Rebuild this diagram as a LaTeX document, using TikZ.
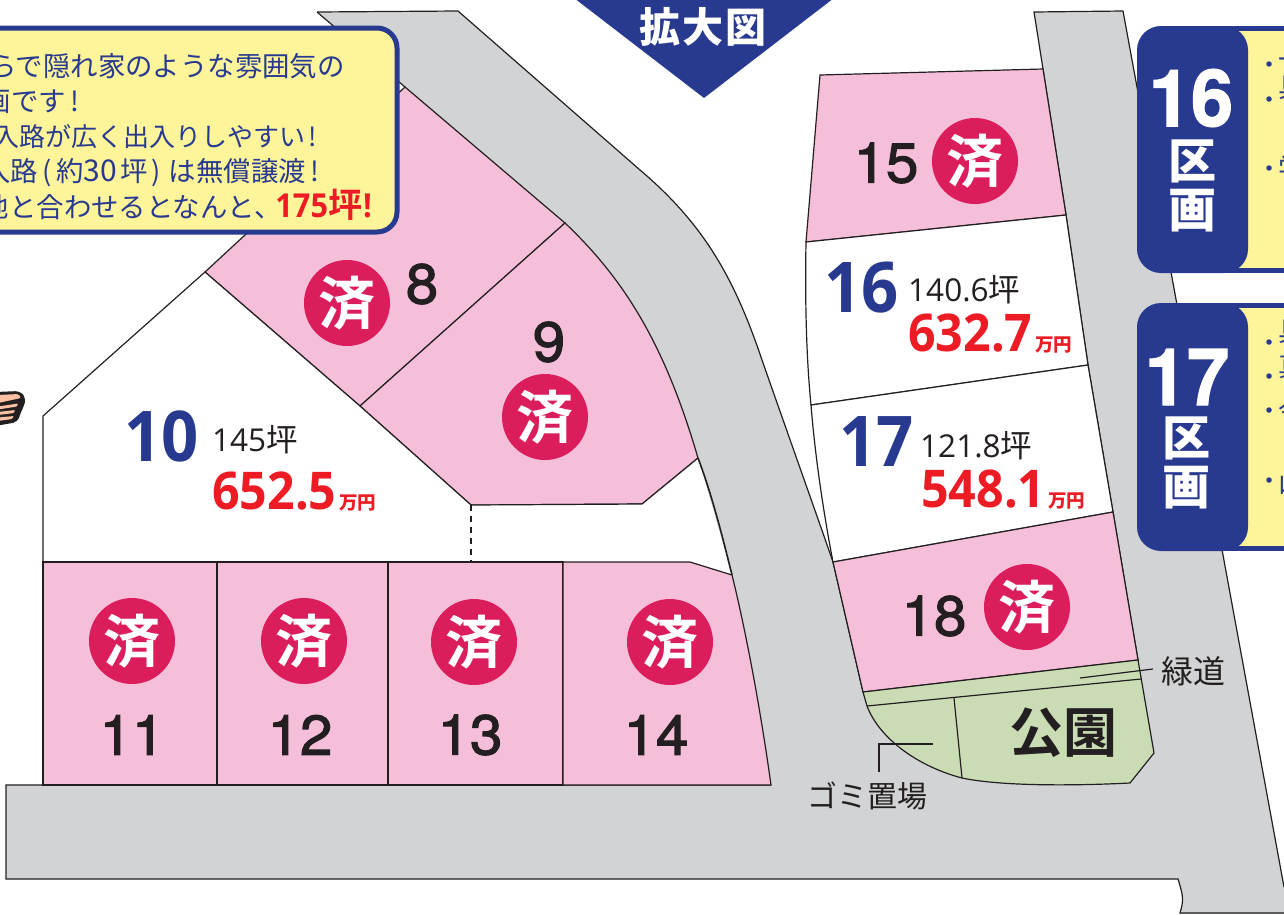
\documentclass[tikz,border=0pt]{standalone}
\usepackage{fontspec}
\setmainfont{Open Sans}
\newfontfamily\cjk{Noto Sans CJK JP}
\newfontfamily\cjkb{Noto Sans CJK JP Bold}
\newfontfamily\cjkh{Noto Sans CJK JP Black}
\newfontfamily\opb{Open Sans}[BoldFont=* Bold,FakeStretch=0.93]
\newfontfamily\hvn{TeX Gyre Heros}[FakeStretch=1.04,FakeBold=2]
\newfontfamily\hv{TeX Gyre Heros}[FakeBold=1.5,FakeStretch=0.96]
\definecolor{road}{HTML}{D1D3D4}
\definecolor{lotpink}{HTML}{F6BFD9}
\definecolor{parkgreen}{HTML}{C9DCB4}
\definecolor{noteyellow}{HTML}{FEF499}
\definecolor{navy}{HTML}{283A90}
\definecolor{soldred}{HTML}{DB1D5C}
\definecolor{pricered}{HTML}{ED1C24}
\definecolor{ink}{HTML}{231F20}
\definecolor{skin}{HTML}{F8BFA0}
\newcommand{\sumi}{\raisebox{-2pt}{済}}
\newcommand{\yen}{{\kern3pt\cjkb\fontsize{18.5}{18.5}\selectfont 万円}}
\tikzset{
  x=1pt,y=-1pt,
  edge/.style={draw=ink,line width=1.2pt,line join=miter},
  sold/.style={edge,fill=lotpink},
  free/.style={edge,fill=white},
  park/.style={edge,fill=parkgreen},
  soldmark/.style={circle,fill=soldred,minimum size=86pt,inner sep=0pt,text=white,font=\cjkb\fontsize{57}{57}\selectfont},
  lotnum/.style={text=ink,inner sep=0pt,font=\hvn\fontsize{56}{56}\selectfont},
  bluenum/.style={text=navy,inner sep=0pt,anchor=base west,font=\opb\bfseries\fontsize{70}{70}\selectfont},
  area/.style={text=ink,inner sep=0pt,anchor=base west,font=\fontsize{31.5}{31.5}\selectfont},
  price/.style={text=pricered,inner sep=0pt,anchor=base west,font=\opb\bfseries\fontsize{52}{52}\selectfont},
  note/.style={text=navy,inner sep=0pt,anchor=base east,font=\cjk\fontsize{27.4}{27.4}\selectfont},
  tabnum/.style={text=white,inner sep=0pt,font=\hv\bfseries\fontsize{79}{79}\selectfont},
  tabkanji/.style={text=white,inner sep=0pt,font=\cjkh\fontsize{48}{48}\selectfont},
  tabbox/.style={fill=navy,rounded corners=24pt},
  panel/.style={fill=noteyellow},
  dot/.style={circle,fill=navy,minimum size=5.5pt,inner sep=0pt},
  frag/.style={text=navy,inner sep=0pt,anchor=west,font=\cjk\fontsize{27}{27}\selectfont},
  label/.style={text=ink,inner sep=0pt,font=\cjk\fontsize{30}{30}\selectfont},
}
\begin{document}
\begin{tikzpicture}
\useasboundingbox (0,0) rectangle (1284,914);
\clip (0,0) rectangle (1284,914);
% roads as one grey area
\fill[road] (317,12) -- (458,11) -- (640,170)
  .. controls (705,225) and (735,280) .. (762,360)
  .. controls (790,440) and (815,510) .. (833,562) -- (863,692) -- (867,706)
  .. controls (880,740) and (920,767) .. (962,778)
  .. controls (1000,786) and (1070,786) .. (1130,783) -- (1154,753) -- (1138,660)
  -- (1113,512) -- (1088,365) -- (1066,215) -- (1034,12) -- (1123,11) -- (1284,887) -- (1284,914)
  -- (1180,914) .. controls (1184,900) and (1183,895) .. (1178,879)
  -- (6,879) -- (6,785) -- (771,785) -- (732,575) -- (698,458) -- (565,223) -- cycle;
\draw[edge] (1123,11) -- (1034,12) -- (1066,215) -- (1088,365) -- (1113,512) -- (1138,660);
\draw[edge] (1123,11) -- (1284,887);
\draw[edge] (317,12) -- (458,11) -- (640,170) .. controls (705,225) and (735,280) .. (762,360) .. controls (790,440) and (815,510) .. (833,562) -- (863,692);
\draw[edge] (771,785) -- (6,785) -- (6,879) -- (1178,879) .. controls (1183,895) and (1184,900) .. (1180,913) -- (1284,913);
% lots on the left
\draw[sold] (205,272) -- (405,87) -- (565,223) -- (360,406) -- cycle;
\draw[edge] (317,12) -- (405,87);
\draw[sold] (360,406) -- (565,223) .. controls (625,280) and (665,345) .. (698,458) -- (642,504) -- (471,505) -- cycle;
\draw[free] (205,272) -- (43,416) -- (43,562) -- (471,562) -- (471,505) -- (360,406) -- cycle;
\fill[white] (471,505) -- (642,504) -- (698,458) -- (732,575) -- (690,562) -- (471,562) -- cycle;
\draw[edge] (471,505) -- (642,504) -- (698,458);
\fill[white] (470,506.5) rectangle (472,561);
\draw[ink,line width=1.1pt,dash pattern=on 6pt off 5pt] (471,505) -- (471,562);
\draw[sold] (43,562) rectangle (217,785);
\draw[sold] (217,562) rectangle (388,785);
\draw[sold] (388,562) rectangle (563,785);
\draw[sold] (563,562) -- (690,562) -- (732,575) .. controls (748,640) and (762,720) .. (771,785) -- (563,785) -- cycle;
\draw[edge,line width=1.6pt] (698,458) .. controls (712,495) and (722,535) .. (732,575);
% lots on the right
\draw[sold] (820,75) -- (1043,69) -- (1066,215) -- (806,242) -- cycle;
\draw[free] (806,242) -- (1066,215) -- (1088,365) -- (811,405) .. controls (806,355) and (805,295) .. (806,242) -- cycle;
\draw[free] (811,405) -- (1088,365) -- (1113,512) -- (833,562) .. controls (823,510) and (815,455) .. (811,405) -- cycle;
\draw[sold] (833,562) -- (1113,512) -- (1138,660) -- (863,692) -- cycle;
% park
\draw[park] (863,692) -- (1138,660) -- (1154,753) -- (1130,783) .. controls (1070,786) and (1000,786) .. (962,778) .. controls (920,767) and (880,740) .. (867,706) -- cycle;
\draw[edge] (867,706) -- (1141,679);
\draw[edge] (954,698) -- (962,778);
\draw[edge] (879,772) -- (879,744) -- (933,744);
\draw[edge] (1080,678) -- (1153,669);
% title flag
\fill[navy] (574,-2) -- (834,-2) -- (704,98) -- cycle;
\node[text=white,inner sep=0pt,font=\cjkh\fontsize{41}{41}\selectfont] (title) at (703,27) {拡\kern2pt 大\kern2pt 図};
% note box
\draw[fill=noteyellow,draw=navy,line width=5pt,rounded corners=20pt] (-30,28) rectangle (397,232);
\node[note] (n1) at (345,76) {らで隠れ家のような雰囲気の};
\node[note] (n2) at (80,111) {画です\kern5pt!};
\node[note,font=\cjk\fontsize{26}{26}\selectfont] (n3) at (317,146) {入路が広く出入りしやすい\kern3pt!};
\node[note] (n4) at (320,181) {入路\kern4pt(\kern5pt 約{\fontsize{30}{30}\selectfont 30}\kern3pt 坪\kern4pt)\kern8pt は無償譲渡\kern5pt!};
\node[note] (n5) at (372,217) {地と合わせるとなんと、\kern-6pt\textcolor{pricered}{{\opb\bfseries\fontsize{33}{33}\selectfont 175}{\cjkb\fontsize{34}{34}\selectfont 坪}{\opb\bfseries\fontsize{33}{33}\selectfont\kern1pt !}}};
% hand
\fill[ink,rounded corners=5pt] (-5,392) -- (20,391) -- (26,398) -- (24,406) -- (20,414) -- (18,422) -- (-5,426) -- cycle;
\fill[skin,rounded corners=2pt] (-2,395) -- (19,394) -- (21,398) -- (-2,403) -- cycle;
\fill[skin,rounded corners=1pt] (-2,406.5) -- (18,403.5) -- (17,406.5) -- (-2,409.5) -- cycle;
\fill[skin,rounded corners=1pt] (-2,412) -- (15,410) -- (14,413) -- (-2,415) -- cycle;
\fill[skin,rounded corners=1pt] (-2,417.5) -- (14,416) -- (12,419) -- (-2,421) -- cycle;
% side panels
\fill[navy] (1200,26) rectangle (1290,273);
\fill[panel] (1225,31) rectangle (1290,268);
\fill[tabbox] (1137,26) rectangle (1248,273);
\fill[navy] (1200,303) rectangle (1290,551);
\fill[panel] (1225,308) rectangle (1290,546);
\fill[tabbox] (1137,303) rectangle (1248,551);
\node[tabnum] (t16) at (1191,98) {16};
\node[tabkanji] (t16a) at (1192,161) {区};
\node[tabkanji] (t16b) at (1192,211) {画};
\node[tabnum] (t17) at (1187,377) {17};
\node[tabkanji] (t17a) at (1186,438) {区};
\node[tabkanji] (t17b) at (1186,488) {画};
\foreach \y in {64,99,168,342,376,410,480} \node[dot] at (1269,\y) {};
\node[frag] (f1) at (1278,64) {一};
\node[frag] (f2) at (1278,88) {具};
\node[frag] (f3) at (1278,168) {学};
\node[frag] (f4) at (1278,332) {具};
\node[frag] (f5) at (1278,366) {真};
\node[frag] (f6) at (1278,410) {今};
\node[frag] (f7) at (1278,482) {山};
% sold marks
\node[soldmark] (s8) at (347,303) {\sumi};
\node[soldmark] (s9) at (545,417) {\sumi};
\node[soldmark] (s11) at (132,641) {\sumi};
\node[soldmark] (s12) at (304,641) {\sumi};
\node[soldmark] (s13) at (474,642) {\sumi};
\node[soldmark] (s14) at (670,642) {\sumi};
\node[soldmark] (s15) at (975,161) {\sumi};
\node[soldmark] (s18) at (1027,607) {\sumi};
% lot numbers
\node[lotnum] (l8) at (422,284) {8};
\node[lotnum] (l9) at (549,342) {9};
\node[lotnum] (l11) at (132,735) {11};
\node[lotnum] (l12) at (300,735) {12};
\node[lotnum] (l13) at (470,735) {13};
\node[lotnum] (l14) at (656,735) {14};
\node[lotnum] (l15) at (886,163) {15};
\node[lotnum] (l18) at (934,616) {18};
% free lots
\node[bluenum] (b10) at (124,461) {10};
\node[area] (a10) at (212,451) {145{\cjk 坪}};
\node[price] (p10) at (212,509) {652.5\yen};
\node[bluenum] (b16) at (824,312) {16};
\node[area] (a16) at (908,301) {140.6{\cjk 坪}};
\node[price] (p16) at (908,351) {632.7\yen};
\node[bluenum] (b17) at (839,466) {17};
\node[area] (a17) at (920,457) {121.8{\cjk 坪}};
\node[price] (p17) at (921,507) {548.1\yen};
% labels
\node[label] (gomi) at (867,796) {ゴミ置場};
\node[label,font=\cjk\fontsize{32}{32}\selectfont] (ryoku) at (1193,671) {緑道};
\node[text=ink,inner sep=0pt,font=\cjkb\fontsize{54}{54}\selectfont] (koen) at (1063,733) {公園};
\end{tikzpicture}
\end{document}
